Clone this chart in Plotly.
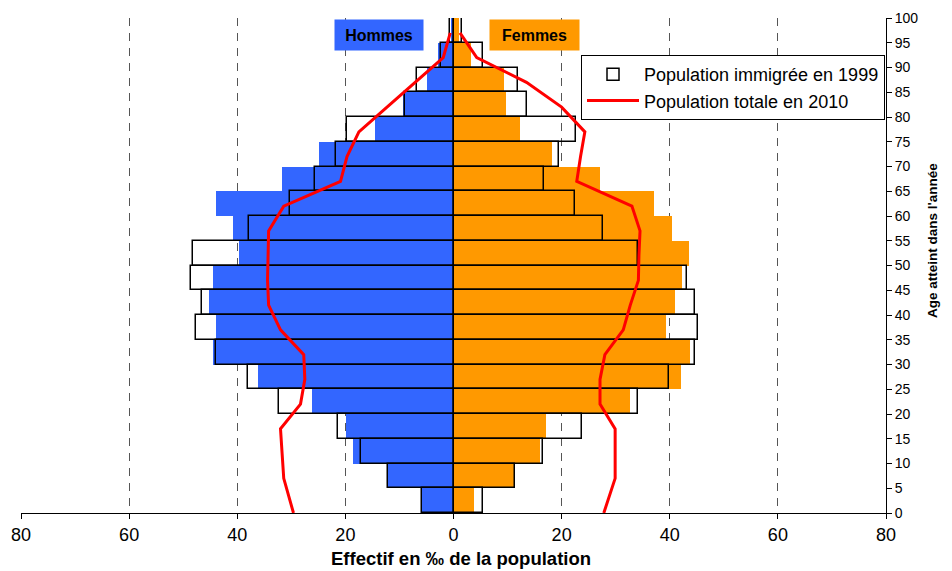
import plotly.graph_objects as go

# Age groups (lower bound of each 5-year class) and class midpoints
age_groups = [0, 5, 10, 15, 20, 25, 30, 35, 40, 45, 50, 55, 60, 65, 70, 75, 80, 85, 90, 95]
age_mid = [2.5, 7.5, 12.5, 17.5, 22.5, 27.5, 32.5, 37.5, 42.5, 47.5,
           52.5, 57.5, 62.5, 67.5, 72.5, 77.5, 82.5, 87.5, 92.5, 97.5]

# Population immigrée 2010 (‰), by sex
hommes_2010 = [5.8, 12.2, 18.5, 19.8, 26.2, 36.2, 44.5, 44.0, 45.3, 44.5,
               39.7, 40.7, 44.0, 31.7, 24.8, 14.6, 9.4, 4.9, 2.9, 0.5]
femmes_2010 = [3.8, 11.2, 16.0, 17.1, 32.7, 42.1, 43.7, 39.3, 41.0, 42.2,
               43.6, 40.4, 37.1, 27.1, 18.2, 12.3, 9.7, 9.4, 3.3, 1.0]

# Population immigrée en 1999 (‰)
hommes_1999 = [5.9, 12.2, 17.1, 21.4, 32.2, 38.1, 43.9, 47.7, 46.6, 48.6,
               48.1, 37.8, 30.3, 25.6, 21.8, 19.7, 8.9, 6.8, 2.3, 0.6]
femmes_1999 = [5.4, 11.3, 16.5, 23.8, 34.1, 39.9, 44.7, 45.3, 44.7, 43.1,
               34.1, 27.7, 22.4, 16.8, 19.6, 22.6, 13.6, 11.9, 5.4, 1.6]

# Population totale en 2010 (‰)
line_ages = [0, 7, 12, 17, 22, 27, 32, 37, 42, 47, 52, 57, 62, 67, 72, 77, 82, 87, 92, 97]
hommes_total = [29.6, 31.4, 31.7, 32.0, 28.3, 27.5, 27.7, 32.0, 34.2, 34.4,
                34.3, 34.2, 31.4, 20.9, 19.7, 17.5, 12.3, 7.1, 1.9, 0.6]
femmes_total = [27.8, 29.9, 29.9, 29.9, 27.1, 27.1, 28.0, 31.4, 32.7, 34.2,
                34.3, 34.5, 33.0, 22.8, 23.5, 24.3, 20.0, 13.5, 4.3, 1.2]

x_ticks = [-80, -60, -40, -20, 0, 20, 40, 60, 80]
x_ticktext = ["80", "60", "40", "20", "0", "20", "40", "60", "80"]

BLUE = "#3366FF"
ORANGE = "#FF9900"
RED = "#FF0000"
FONT = "Arial, 'Liberation Sans', sans-serif"

# The page body has an 8px margin, so the figure is drawn 8px smaller
OFF = 8
W, H = 952 - OFF, 571 - OFF
L, R, T, B = 21 - OFF, 66, 18 - OFF, 58
pw, ph = W - L - R, H - T - B


def px(xp):
    return (xp - OFF - L) / pw


def py(yp):
    return (H - B - (yp - OFF)) / ph


fig = go.Figure()

fig.add_trace(go.Bar(
    y=age_mid, x=[-v for v in hommes_2010], orientation="h", width=5,
    marker=dict(color=BLUE, line=dict(width=0)), showlegend=False, name="Hommes"))
fig.add_trace(go.Bar(
    y=age_mid, x=femmes_2010, orientation="h", width=5,
    marker=dict(color=ORANGE, line=dict(width=0)), showlegend=False, name="Femmes"))

fig.add_trace(go.Bar(
    y=age_mid, x=[-v for v in hommes_1999], orientation="h", width=5,
    marker=dict(color="rgba(255,255,255,0)", line=dict(color="black", width=1.5)),
    name="Population immigrée en 1999", showlegend=True, legendrank=1))
fig.add_trace(go.Bar(
    y=age_mid, x=femmes_1999, orientation="h", width=5,
    marker=dict(color="rgba(255,255,255,0)", line=dict(color="black", width=1.5)),
    name="Population immigrée en 1999 F", showlegend=False))

fig.add_trace(go.Scatter(
    y=line_ages, x=[-v for v in hommes_total], mode="lines",
    line=dict(color=RED, width=3), name="Population totale en 2010",
    showlegend=True, legendrank=2))
fig.add_trace(go.Scatter(
    y=line_ages, x=femmes_total, mode="lines",
    line=dict(color=RED, width=3), showlegend=False))

fig.update_layout(
    width=W, height=H, autosize=False,
    margin=dict(l=L, r=R, t=T, b=B, autoexpand=False),
    paper_bgcolor="white", plot_bgcolor="white",
    barmode="overlay", bargap=0,
    font=dict(family=FONT, color="black"),
    legend=dict(
        x=px(581), y=py(55), xanchor="left", yanchor="top",
        bgcolor="white", bordercolor="black", borderwidth=1,
        font=dict(size=18, family=FONT), itemwidth=52,
        tracegroupgap=0),
    xaxis=dict(
        range=[-80, 80], tickvals=x_ticks, ticktext=x_ticktext, automargin=False,
        tickfont=dict(size=18), ticks="outside", ticklen=5, tickcolor="black",
        showline=True, linecolor="black", linewidth=1,
        showgrid=True, gridcolor="#555555", griddash="8px,7px", gridwidth=1,
        zeroline=False, fixedrange=True),
    yaxis=dict(
        range=[0, 100], dtick=5, side="right", automargin=False,
        tickfont=dict(size=14), ticks="outside", ticklen=5, tickcolor="black",
        showline=True, linecolor="black", linewidth=1,
        showgrid=False, zeroline=False),
    annotations=[
        dict(x=-13.7, y=96.6, xref="x", yref="y", text="<b>Hommes</b>",
             showarrow=False, bgcolor=BLUE, width=86, height=28,
             xanchor="center", yanchor="middle",
             font=dict(size=16, color="black", family=FONT)),
        dict(x=15.0, y=96.6, xref="x", yref="y", text="<b>Femmes</b>",
             showarrow=False, bgcolor=ORANGE, width=87, height=28,
             xanchor="center", yanchor="middle",
             font=dict(size=16, color="black", family=FONT)),
        dict(x=px(461), y=py(558), xref="paper", yref="paper",
             text="<b>Effectif en ‰ de la population</b>",
             xanchor="center", yanchor="middle",
             showarrow=False, font=dict(size=18.5, family=FONT)),
        dict(x=px(932), y=py(241), xref="paper", yref="paper",
             text="<b>Age atteint dans l'année</b>",
             xanchor="center", yanchor="middle",
             showarrow=False, textangle=-90, font=dict(size=13.5, family=FONT)),
    ],
)

fig.write_html("out.html")
